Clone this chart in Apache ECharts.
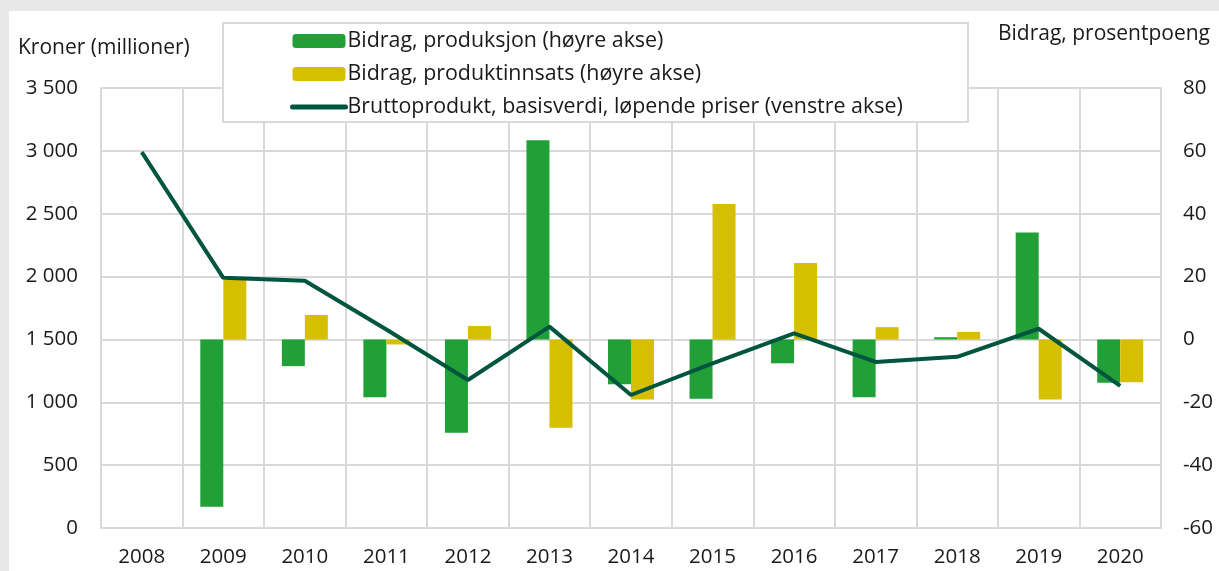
<!DOCTYPE html>
<html>
<head>
<meta charset="utf-8">
<script src="https://cdn.jsdelivr.net/npm/echarts@6/dist/echarts.min.js"></script>
<style>
  html, body { margin: 0; padding: 0; background: #e8e8e8; }
  #panel { position: absolute; left: 9px; top: 11px; right: 0; bottom: 0; background: #ffffff; }
  #chart { position: absolute; left: 0; top: 0; width: 1219px; height: 571px; }
</style>
</head>
<body>
<div id="panel"></div>
<div id="chart"></div>
<script>
// Years on the category axis
const years = ['2008', '2009', '2010', '2011', '2012', '2013', '2014', '2015', '2016', '2017', '2018', '2019', '2020'];

// Contribution from production, percentage points (right axis)
const bidragProduksjon = [null, -53.2, -8.5, -18.4, -29.7, 63.4, -14.3, -18.9, -7.6, -18.4, 0.7, 34.0, -13.8];

// Contribution from intermediate consumption, percentage points (right axis)
const bidragProduktinnsats = [null, 18.9, 7.8, -1.6, 4.3, -28.1, -19.1, 43.1, 24.3, 3.9, 2.4, -19.1, -13.6];

// Gross product, basic values, current prices, NOK million (left axis)
const bruttoprodukt = [2990, 1990, 1967, 1579, 1177, 1602, 1058, 1310, 1549, 1321, 1362, 1585, 1130];

// Axis scales
const leftAxis = { min: 0, max: 3500, interval: 500 };
const rightAxis = { min: -60, max: 80, interval: 20 };

const seriesNames = [
  'Bidrag, produksjon (høyre akse)',
  'Bidrag, produktinnsats (høyre akse)',
  'Bruttoprodukt, basisverdi, løpende priser (venstre akse)'
];

const FONT = '"Open Sans", "Noto Sans", sans-serif';
const TEXT = '#1a1a1a';
const GRID_LINE = '#d9d9d9';
const LINE_COLOR = '#00553f';

function thousands(v) {
  return String(v).replace(/\B(?=(\d{3})+(?!\d))/g, ' ');
}

const chart = echarts.init(document.getElementById('chart'), null, { renderer: 'canvas' });

chart.setOption({
  backgroundColor: 'transparent',
  animation: false,
  textStyle: { fontFamily: FONT, color: TEXT },
  grid: { left: 101, right: 58, top: 88, bottom: 43, containLabel: false },
  graphic: [
    {
      type: 'rect',
      z: 5,
      shape: { x: 223, y: 23, width: 745, height: 99 },
      style: { fill: '#ffffff', stroke: GRID_LINE, lineWidth: 2 }
    },
    {
      type: 'text',
      z: 5,
      left: 18, top: 38,
      style: { text: 'Kroner (millioner)', font: '21px ' + FONT, fill: TEXT }
    },
    {
      type: 'text',
      z: 5,
      right: 9, top: 24,
      style: { text: 'Bidrag, prosentpoeng', font: '21px ' + FONT, fill: TEXT }
    }
  ],
  legend: {
    z: 6,
    orient: 'vertical',
    left: 290,
    top: 30,
    padding: 0,
    itemWidth: 53,
    itemHeight: 14,
    itemGap: 11,
    data: [
      { name: seriesNames[0] },
      { name: seriesNames[1] },
      {
        name: seriesNames[2],
        itemStyle: { color: 'rgba(0,0,0,0)', borderColor: 'rgba(0,0,0,0)', borderWidth: 0 },
        lineStyle: { color: LINE_COLOR, width: 5, cap: 'round' }
      }
    ],
    textStyle: { fontSize: 21.4, fontFamily: FONT, color: TEXT, lineHeight: 22, padding: [0, 0, 0, -3] }
  },
  xAxis: {
    type: 'category',
    data: years,
    boundaryGap: true,
    axisLine: { show: true, lineStyle: { color: GRID_LINE, width: 2 } },
    axisTick: { show: false },
    axisLabel: { fontSize: 20.5, color: TEXT, margin: 19, fontFamily: FONT },
    splitLine: { show: true, lineStyle: { color: GRID_LINE, width: 2 } }
  },
  yAxis: [
    {
      type: 'value',
      min: leftAxis.min, max: leftAxis.max, interval: leftAxis.interval,
      axisLine: { show: true, lineStyle: { color: GRID_LINE, width: 2 } },
      axisTick: { show: false },
      axisLabel: { fontSize: 20.5, color: TEXT, margin: 23, fontFamily: FONT, formatter: thousands },
      splitLine: { show: true, lineStyle: { color: GRID_LINE, width: 2 } }
    },
    {
      type: 'value',
      min: rightAxis.min, max: rightAxis.max, interval: rightAxis.interval,
      axisLine: { show: true, lineStyle: { color: GRID_LINE, width: 2 } },
      axisTick: { show: false },
      axisLabel: { fontSize: 20.5, color: TEXT, margin: 22, fontFamily: FONT },
      splitLine: { show: false }
    }
  ],
  series: [
    {
      name: seriesNames[0],
      type: 'bar',
      yAxisIndex: 1,
      data: bidragProduksjon,
      barWidth: 23,
      barGap: '0%',
      itemStyle: { color: '#21a038' }
    },
    {
      name: seriesNames[1],
      type: 'bar',
      yAxisIndex: 1,
      data: bidragProduktinnsats,
      barWidth: 23,
      barGap: '0%',
      itemStyle: { color: '#d6bf00' }
    },
    {
      name: seriesNames[2],
      type: 'line',
      yAxisIndex: 0,
      data: bruttoprodukt,
      symbol: 'none',
      z: 3,
      lineStyle: { color: LINE_COLOR, width: 4 },
      itemStyle: { color: LINE_COLOR }
    }
  ]
});
</script>
</body>
</html>
